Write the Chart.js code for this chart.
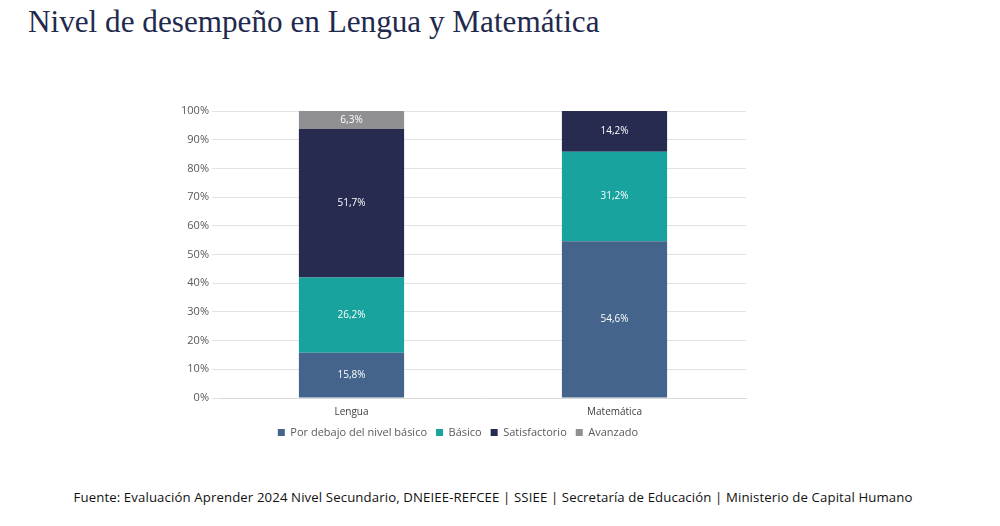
<!DOCTYPE html>
<html>
<head>
<meta charset="utf-8">
<script src="https://cdn.jsdelivr.net/npm/chart.js@4"></script>
<style>
  body { margin: 0; background: #fff; width: 1000px; height: 526px; position: relative; overflow: hidden; }
  h1 { position: absolute; left: 28px; top: 4px; margin: 0; font-family: "Liberation Serif", "DejaVu Serif", serif; font-weight: normal; font-size: 31.2px; color: #1f2a4d; }
  #wrap { position: absolute; left: 170px; top: 101px; width: 600px; height: 347px; }
  .src { position: absolute; left: 0; width: 986px; top: 488px; text-align: center; font-family: "Open Sans", sans-serif; font-size: 13.2px; letter-spacing: 0.12px; color: #111; }
</style>
</head>
<body>
<h1>Nivel de desempeño en Lengua y Matemática</h1>
<div id="wrap"><canvas id="myChart"></canvas></div>
<div class="src">Fuente: Evaluación Aprender 2024 Nivel Secundario, DNEIEE-REFCEE | SSIEE | Secretaría de Educación | Ministerio de Capital Humano</div>
<script>
const labels = ['Lengua', 'Matemática'];
const porDebajo = [15.8, 54.6];
const basico = [26.2, 31.2];
const satisfactorio = [51.7, 14.2];
const avanzado = [6.3, 0];
const yTicks = [0, 10, 20, 30, 40, 50, 60, 70, 80, 90, 100];

// values written in the middle of each segment
const barLabels = {
  id: 'barLabels',
  afterDatasetsDraw(chart) {
    const ctx = chart.ctx;
    ctx.save();
    ctx.font = '10px "Open Sans", sans-serif';
    ctx.fillStyle = '#ffffff';
    ctx.textAlign = 'center';
    ctx.textBaseline = 'middle';
    chart.data.datasets.forEach((ds, i) => {
      chart.getDatasetMeta(i).data.forEach((bar, j) => {
        const v = ds.data[j];
        if (!v) return;
        ctx.fillText(v.toFixed(1).replace('.', ',') + '%', bar.x, (bar.y + bar.base) / 2);
      });
    });
    ctx.restore();
  }
};

const data = {
  labels: labels,
  datasets: [
    { label: 'Por debajo del nivel básico', data: porDebajo, backgroundColor: '#44648c' },
    { label: 'Básico', data: basico, backgroundColor: '#18a39e' },
    { label: 'Satisfactorio', data: satisfactorio, backgroundColor: '#272b4f' },
    { label: 'Avanzado', data: avanzado, backgroundColor: '#8f8f94' }
  ]
};

const config = {
  type: 'bar',
  data: data,
  plugins: [barLabels],
  options: {
    responsive: true,
    maintainAspectRatio: false,
    animation: false,
    barPercentage: 0.8,
    categoryPercentage: 0.5,
    layout: { padding: { top: 10, right: 24 } },
    plugins: {
      legend: {
        position: 'bottom',
        labels: {
          boxWidth: 7, boxHeight: 7, padding: 9,
          color: '#595959',
          font: { family: 'Open Sans', size: 11 }
        }
      },
      tooltip: { enabled: false }
    },
    scales: {
      x: {
        stacked: true,
        grid: { display: false },
        border: { color: '#d9d9d9' },
        ticks: { padding: 0, color: '#404040', font: { family: 'Open Sans', size: 10 } }
      },
      y: {
        stacked: true,
        min: 0, max: 100,
        afterFit(axis) { axis.width = 50; },
        afterBuildTicks(axis) { axis.ticks = yTicks.map(v => ({ value: v })); },
        grid: { color: '#e3e3e3' },
        border: { display: false },
        ticks: {
          color: '#595959',
          font: { family: 'Open Sans', size: 11 },
          callback: v => v + '%'
        }
      }
    }
  }
};

const myChart = new Chart(document.getElementById('myChart'), config);
</script>
</body>
</html>
